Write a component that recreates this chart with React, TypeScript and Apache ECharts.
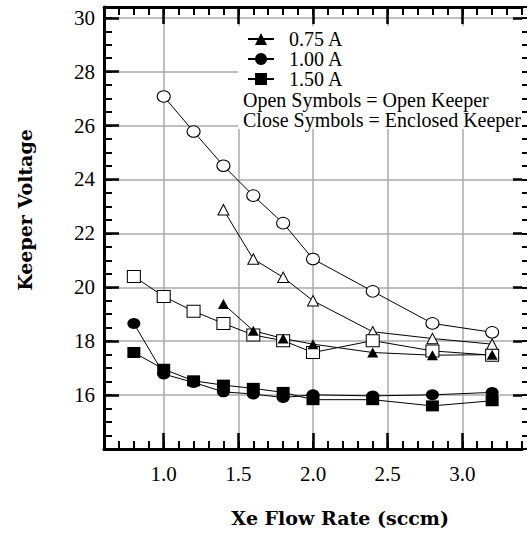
import React, { useEffect, useRef } from "react";
import * as echarts from "echarts";

// ---- data ----
const x075 = [1.4, 1.6, 1.8, 2.0, 2.4, 2.8, 3.2];
const open075 = [22.88, 21.05, 20.37, 19.5, 18.35, 18.1, 17.89];
const closed075 = [19.38, 18.39, 18.1, 17.89, 17.58, 17.48, 17.5];

const xOpen100 = [1.0, 1.2, 1.4, 1.6, 1.8, 2.0, 2.4, 2.8, 3.2];
const open100 = [27.08, 25.78, 24.51, 23.4, 22.38, 21.05, 19.85, 18.66, 18.33];
const xClosed100 = [0.8, 1.0, 1.2, 1.4, 1.6, 1.8, 2.0, 2.4, 2.8, 3.2];
const closed100 = [18.66, 16.78, 16.47, 16.12, 16.04, 15.91, 16.01, 15.97, 16.01, 16.1];

const x150 = [0.8, 1.0, 1.2, 1.4, 1.6, 1.8, 2.0, 2.4, 2.8, 3.2];
const open150 = [20.4, 19.66, 19.11, 18.66, 18.23, 18.02, 17.58, 18.02, 17.64, 17.48];
const closed150 = [17.58, 16.96, 16.53, 16.37, 16.25, 16.1, 15.83, 15.83, 15.6, 15.79];

const legendNames = ["0.75 A", "1.00 A", "1.50 A"];
const xMajorTicks = [1.0, 1.5, 2.0, 2.5, 3.0];
const xMin = 0.6;
const xMax = 3.4;
const yMin = 14;
const yMax = 30.4;
const yLabelMin = 16;
const yLabelMax = 30;

const xTitle = "Xe Flow Rate (sccm)";
const yTitle = "Keeper Voltage";
const note1 = "Open Symbols = Open Keeper";
const note2 = "Close Symbols = Enclosed Keeper";

const pts = (xs: number[], vs: number[]) => xs.map((x, i) => [x, vs[i]]);

const SERIF = "Liberation Serif";
const TITLE_FONT = "DejaVu Serif";

function mk(name: string, symbol: string, size: number[], filled: boolean, data: number[][]) {
  return {
    type: "line",
    name,
    data,
    symbol,
    symbolSize: size,
    showSymbol: true,
    xAxisIndex: 0,
    yAxisIndex: 0,
    lineStyle: { color: "#000", width: 1 },
    itemStyle: filled
      ? { color: "#000", borderColor: "#000", borderWidth: 0 }
      : { color: "#fff", borderColor: "#000", borderWidth: 1 },
    emphasis: { disabled: true },
    z: 3,
  };
}

export default function App() {
  const ref = useRef<HTMLDivElement>(null);
  useEffect(() => {
    if (!ref.current) return;
    const chart = echarts.init(ref.current, null, { renderer: "svg" });
    const black = "#000";
    const gridColor = "#aaaaaa";
    const baseX = { type: "value", min: xMin, max: xMax, gridIndex: 0 };
    const baseY = { type: "value", min: yMin, max: yMax, gridIndex: 0 };
    const legendTops = [29, 49, 69];
    const legends = legendNames.map((n, i) => ({
      data: [n],
      orient: "vertical",
      left: 247,
      top: legendTops[i],
      padding: 0,
      itemWidth: 26,
      itemHeight: 15,
      itemGap: 0,
      selectedMode: false,
      z: 10,
      textStyle: { fontFamily: SERIF, fontSize: 20, lineHeight: 16, color: black, padding: [0, 0, 0, 10] },
    }));
    chart.setOption({
      animation: false,
      backgroundColor: "#fff",
      textStyle: { fontFamily: SERIF, color: black },
      grid: { left: 104, right: 5, top: 7, bottom: 86, containLabel: false },
      xAxis: [
        {
          ...baseX,
          position: "bottom",
          interval: 0.1,
          axisLine: { show: true, lineStyle: { color: black, width: 3 } },
          axisTick: { show: true, inside: true, length: 8, lineStyle: { color: black, width: 2 } },
          axisLabel: { show: false },
          splitLine: { show: false },
        },
        {
          ...baseX,
          position: "bottom",
          axisLine: { show: false },
          axisTick: { show: true, inside: true, length: 16, customValues: xMajorTicks, lineStyle: { color: black, width: 2.5 } },
          axisLabel: {
            show: true,
            customValues: xMajorTicks,
            margin: 14,
            fontFamily: SERIF,
            fontSize: 21,
            color: black,
            formatter: (v: number) => v.toFixed(1),
          },
          splitLine: { show: true, lineStyle: { color: gridColor, width: 1.5 } },
        },
        {
          ...baseX,
          position: "top",
          interval: 0.1,
          axisLine: { show: true, lineStyle: { color: black, width: 3 } },
          axisTick: { show: true, inside: true, length: 8, lineStyle: { color: black, width: 2 } },
          axisLabel: { show: false },
          splitLine: { show: false },
        },
        {
          ...baseX,
          position: "top",
          axisLine: { show: false },
          axisTick: { show: true, inside: true, length: 17, customValues: xMajorTicks, lineStyle: { color: black, width: 2.5 } },
          axisLabel: { show: false },
          splitLine: { show: false },
        },
      ],
      yAxis: [
        {
          ...baseY,
          position: "left",
          interval: 2,
          axisLine: { show: true, lineStyle: { color: black, width: 3 } },
          axisTick: { show: true, inside: true, length: 15, lineStyle: { color: black, width: 2.5 } },
          axisLabel: {
            show: true,
            margin: 9,
            fontFamily: SERIF,
            fontSize: 21,
            color: black,
            showMinLabel: false,
            showMaxLabel: false,
            formatter: (v: number) =>
              v >= yLabelMin && v <= yLabelMax && Math.abs(v / 2 - Math.round(v / 2)) < 1e-6 ? String(v) : "",
          },
          splitLine: { show: true, lineStyle: { color: gridColor, width: 1.5 } },
        },
        {
          ...baseY,
          position: "left",
          interval: 0.5,
          axisLine: { show: false },
          axisTick: { show: true, inside: true, length: 8, lineStyle: { color: black, width: 2 } },
          axisLabel: { show: false },
          splitLine: { show: false },
        },
        {
          ...baseY,
          position: "right",
          interval: 2,
          axisLine: { show: false },
          axisTick: { show: true, inside: true, length: 9, lineStyle: { color: black, width: 2.5 } },
          axisLabel: { show: false },
          splitLine: { show: false },
        },
        {
          ...baseY,
          position: "right",
          interval: 0.5,
          axisLine: { show: false },
          axisTick: { show: true, inside: false, length: 5, lineStyle: { color: black, width: 2 } },
          axisLabel: { show: false },
          splitLine: { show: false },
        },
      ],
      legend: legends,
      graphic: [
        { type: "rect", z: 1, silent: true, shape: { x: 238, y: 26, width: 284, height: 103 }, style: { fill: "#fff" } },
        {
          type: "text", z: 5, x: 243, y: 99.5,
          style: { text: note1, fontFamily: SERIF, fontSize: 20, lineHeight: 18, fill: black, textVerticalAlign: "middle" },
        },
        {
          type: "text", z: 5, x: 243, y: 119.5,
          style: { text: note2, fontFamily: SERIF, fontSize: 20, lineHeight: 18, fill: black, textVerticalAlign: "middle" },
        },
        {
          type: "text", z: 5, x: 340, y: 518,
          style: { text: xTitle, fontFamily: TITLE_FONT, fontWeight: "bold", fontSize: 19, fill: black, textAlign: "center", textVerticalAlign: "middle" },
        },
        {
          type: "text", z: 5, x: 25, y: 210, rotation: Math.PI / 2,
          style: { text: yTitle, fontFamily: TITLE_FONT, fontWeight: "bold", fontSize: 19, fill: black, textAlign: "center", textVerticalAlign: "middle" },
        },
      ],
      series: [
        mk("0.75 A open", "triangle", [11, 10.5], false, pts(x075, open075)),
        mk("1.00 A open", "circle", [13, 11.5], false, pts(xOpen100, open100)),
        mk("1.50 A open", "rect", [13, 12], false, pts(x150, open150)),
        mk(legendNames[0], "triangle", [11, 10], true, pts(x075, closed075)),
        mk(legendNames[1], "circle", [13, 11], true, pts(xClosed100, closed100)),
        mk(legendNames[2], "rect", [13, 11], true, pts(x150, closed150)),
      ],
    });
    return () => chart.dispose();
  }, []);
  return <div ref={ref} style={{ position: "absolute", left: 0, top: 0, width: 527, height: 535 }} />;
}
